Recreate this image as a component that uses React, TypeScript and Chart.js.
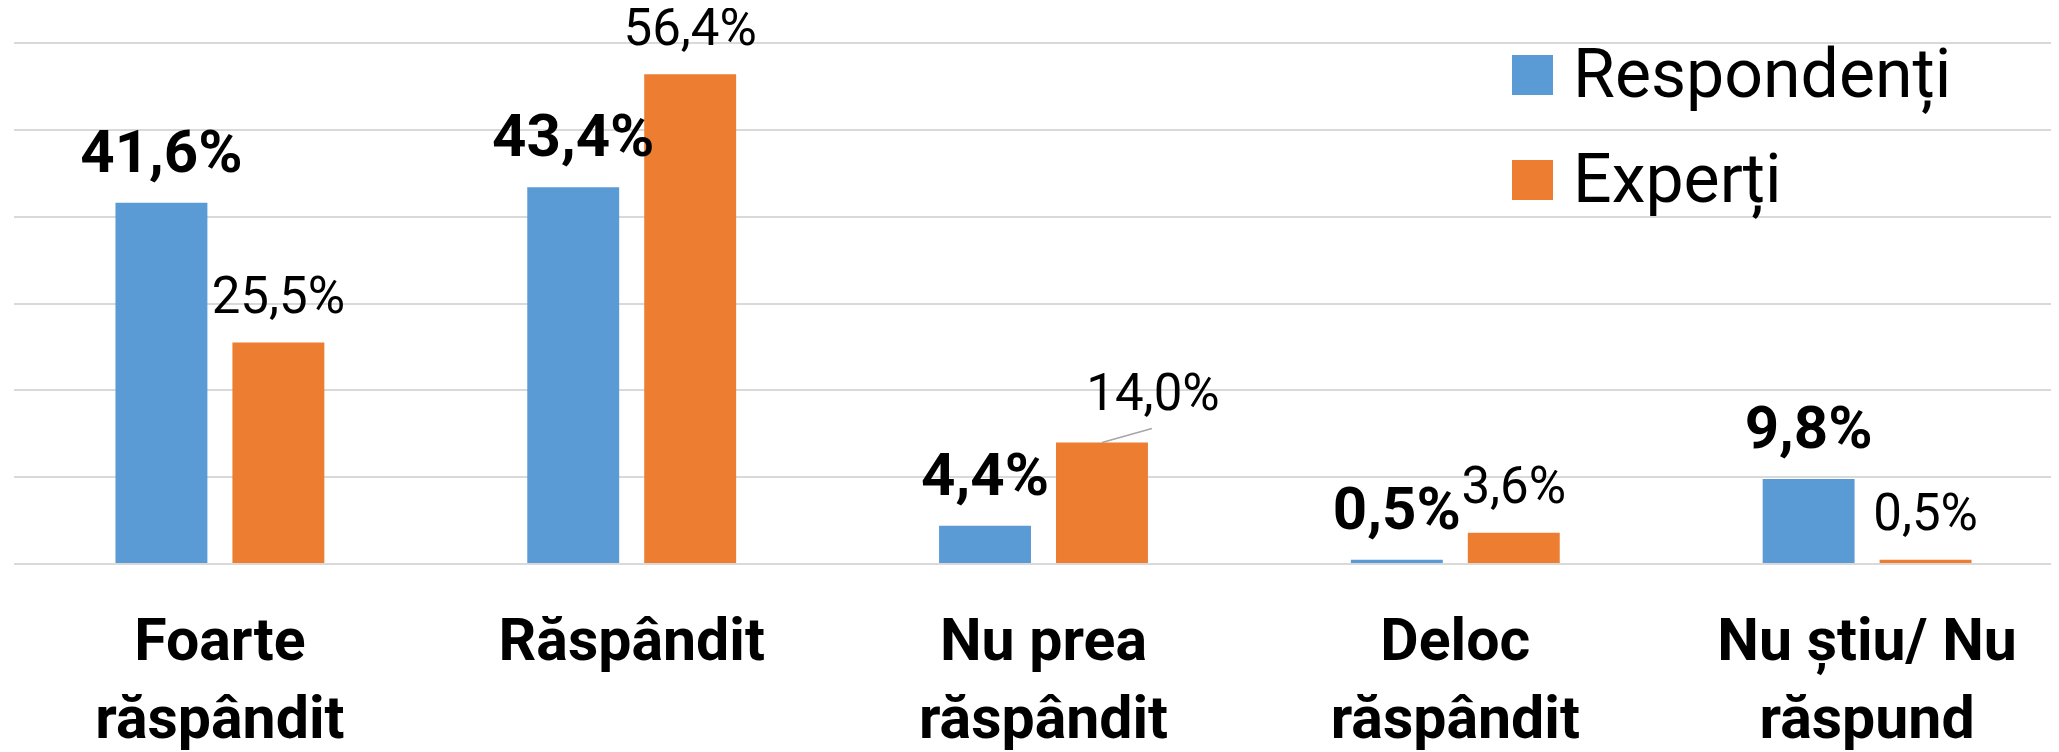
import React, { useEffect, useRef } from "react";
import { Chart, registerables } from "chart.js";

Chart.register(...registerables);

const categories: string[][] = [
  ["Foarte", "răspândit"],
  ["Răspândit"],
  ["Nu prea", "răspândit"],
  ["Deloc", "răspândit"],
  ["Nu știu/ Nu", "răspund"],
];
const seriesNames = ["Respondenți", "Experți"];
const respondenti = [41.6, 43.4, 4.4, 0.5, 9.8];
const experti = [25.5, 56.4, 14.0, 3.6, 0.5];
const yTicks = [0, 10, 20, 30, 40, 50, 60];

const BLUE = "#5B9BD5";
const ORANGE = "#ED7D31";
const FONT = "Roboto";

const fmt = (v: number) => v.toFixed(1).replace(".", ",") + "%";

const labelsPlugin = {
  id: "valueLabels",
  afterDatasetsDraw(chart: any) {
    const ctx = chart.ctx;
    ctx.save();
    ctx.textAlign = "center";
    ctx.textBaseline = "middle";
    chart.data.datasets.forEach((ds: any, di: number) => {
      const meta = chart.getDatasetMeta(di);
      meta.data.forEach((bar: any, i: number) => {
        const v = ds.data[i];
        const txt = fmt(v);
        ctx.fillStyle = "#000";
        if (di === 0) {
          ctx.font = `bold 60px ${FONT}`;
          ctx.fillText(txt, bar.x, bar.y - 46);
        } else {
          ctx.font = `51px ${FONT}`;
          if (i === 2) {
            // label moved aside with leader line
            ctx.strokeStyle = "#A6A6A6";
            ctx.lineWidth = 1.5;
            ctx.beginPath();
            ctx.moveTo(bar.x, bar.y);
            ctx.lineTo(bar.x + 50, bar.y - 14);
            ctx.stroke();
            ctx.fillText(txt, bar.x + 51, bar.y - 45);
          } else {
            ctx.fillText(txt, bar.x, bar.y - 42);
          }
        }
      });
    });
    ctx.restore();
  },
};

const legendPlugin = {
  id: "customLegend",
  afterDraw(chart: any) {
    const ctx = chart.ctx;
    ctx.save();
    const items = chart.data.datasets;
    items.forEach((ds: any, i: number) => {
      const top = 47 + i * 105;
      ctx.fillStyle = ds.backgroundColor;
      ctx.fillRect(1504, top, 41, 40);
      ctx.fillStyle = "#000";
      ctx.font = `68px ${FONT}`;
      ctx.textAlign = "left";
      ctx.textBaseline = "alphabetic";
      ctx.fillText(ds.label, 1565, top + 42);
    });
    ctx.restore();
  },
};

export default function App() {
  const ref = useRef<HTMLCanvasElement>(null);
  useEffect(() => {
    if (!ref.current) return;
    const chart = new Chart(ref.current, {
      type: "bar",
      data: {
        labels: categories,
        datasets: [
          {
            label: seriesNames[0],
            data: respondenti,
            backgroundColor: BLUE,
            categoryPercentage: 0.568,
            barPercentage: 0.786,
          },
          {
            label: seriesNames[1],
            data: experti,
            backgroundColor: ORANGE,
            categoryPercentage: 0.568,
            barPercentage: 0.786,
          },
        ],
      },
      options: {
        responsive: false,
        animation: false,
        layout: { padding: { top: 35, left: 6, right: 0, bottom: 0 } },
        plugins: {
          legend: { display: false },
          tooltip: { enabled: false },
        },
        scales: {
          x: {
            grid: { display: false, drawTicks: false },
            border: { display: false },
            ticks: {
              color: "#000",
              font: { family: FONT, size: 59, weight: "bold", lineHeight: 1.32 },
              padding: 42,
              maxRotation: 0,
              autoSkip: false,
            },
            afterFit(scale: any) {
              scale.height = 188;
            },
          },
          y: {
            min: yTicks[0],
            max: yTicks[yTicks.length - 1],
            afterBuildTicks(scale: any) {
              scale.ticks = yTicks.map((v) => ({ value: v }));
            },
            ticks: { display: false },
            grid: { color: "#D9D9D9", lineWidth: 2, drawTicks: false },
            border: { display: false },
            afterFit(scale: any) {
              scale.width = 0;
            },
          },
        },
      },
      plugins: [labelsPlugin, legendPlugin],
    });
    return () => chart.destroy();
  }, []);
  return (
    <div style={{ width: 2051, height: 744, overflow: "hidden" }}>
      <canvas ref={ref} width={2065} height={744} style={{ width: 2065, height: 744, display: "block" }} />
    </div>
  );
}
